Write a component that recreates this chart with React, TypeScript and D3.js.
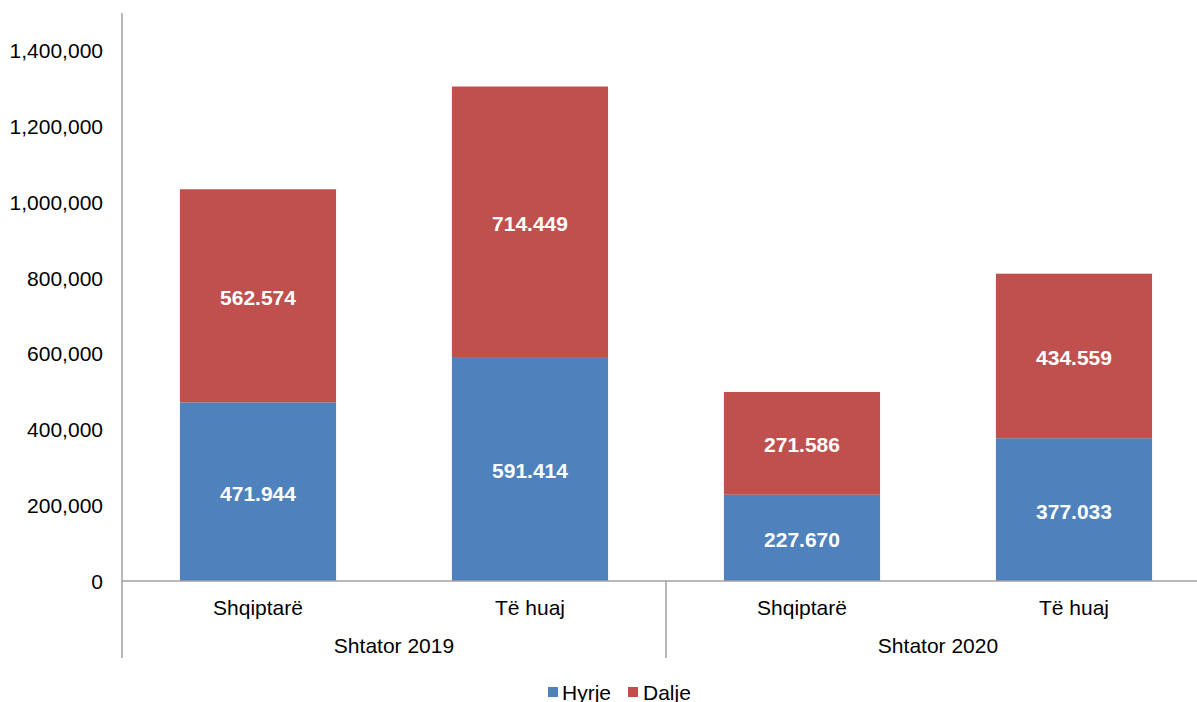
import React from "react";
import * as d3 from "d3";

const groups = ["Shtator 2019", "Shtator 2020"];
const categories = ["Shqiptarë", "Të huaj", "Shqiptarë", "Të huaj"];
const categoryGroup = [0, 0, 1, 1];
const hyrje = [471944, 591414, 227670, 377033];
const dalje = [562574, 714449, 271586, 434559];
const hyrjeLabels = ["471.944", "591.414", "227.670", "377.033"];
const daljeLabels = ["562.574", "714.449", "271.586", "434.559"];
const yTicks = [0, 200000, 400000, 600000, 800000, 1000000, 1200000, 1400000];
const seriesNames = ["Hyrje", "Dalje"];
const colors = ["#4F81BD", "#C0504D"];

const W = 1197;
const H = 702;
const left = 122;
const catW = 272;
const y0 = 581;
const yTop = 13;
const FONT = "'Liberation Sans', Arial, sans-serif";
const FS = 21;

export default function App() {
  const y = d3.scaleLinear().domain([0, 1500000]).range([y0, yTop]);
  const x = d3
    .scaleBand<number>()
    .domain(d3.range(categories.length))
    .range([left, left + catW * categories.length])
    .paddingInner(0.426)
    .paddingOuter(0.213);
  const fmt = d3.format(",");
  const axisColor = "#A0A0A0";
  const bottom = 658;

  return (
    <svg
      width={W}
      height={H}
      style={{ position: "absolute", left: 0, top: 0, background: "#fff" }}
      fontFamily={FONT}
    >
      {categories.map((c, i) => {
        const bx = x(i)!;
        const bw = x.bandwidth();
        const h0 = y(0);
        const h1 = y(hyrje[i]);
        const h2 = y(hyrje[i] + dalje[i]);
        return (
          <g key={i}>
            <rect x={bx} y={h1} width={bw} height={h0 - h1} fill={colors[0]} />
            <rect x={bx} y={h2} width={bw} height={h1 - h2} fill={colors[1]} />
            <text
              x={bx + bw / 2}
              y={(h0 + h1) / 2 + 1.5}
              textAnchor="middle"
              dominantBaseline="central"
              fill="#fff"
              fontWeight="bold"
              fontSize={FS}
            >
              {hyrjeLabels[i]}
            </text>
            <text
              x={bx + bw / 2}
              y={(h1 + h2) / 2 + 1.5}
              textAnchor="middle"
              dominantBaseline="central"
              fill="#fff"
              fontWeight="bold"
              fontSize={FS}
            >
              {daljeLabels[i]}
            </text>
            <text
              x={bx + bw / 2}
              y={607}
              textAnchor="middle"
              dominantBaseline="central"
              fill="#000"
              fontSize={FS}
            >
              {c}
            </text>
          </g>
        );
      })}
      {groups.map((g, gi) => {
        const idx = categories.map((_, i) => i).filter((i) => categoryGroup[i] === gi);
        const gx0 = left + catW * idx[0];
        const gx1 = left + catW * (idx[idx.length - 1] + 1);
        return (
          <text
            key={g}
            x={(gx0 + gx1) / 2}
            y={645}
            textAnchor="middle"
            dominantBaseline="central"
            fill="#000"
            fontSize={FS}
          >
            {g}
          </text>
        );
      })}
      {yTicks.map((t) => (
        <text
          key={t}
          x={103}
          y={y(t)}
          textAnchor="end"
          dominantBaseline="central"
          fill="#000"
          fontSize={FS}
        >
          {fmt(t)}
        </text>
      ))}
      <line x1={left} x2={W} y1={y0} y2={y0} stroke={axisColor} strokeWidth={1.5} />
      <line x1={left} x2={left} y1={yTop} y2={bottom} stroke={axisColor} strokeWidth={1.5} />
      <line x1={left + catW * 2} x2={left + catW * 2} y1={y0} y2={bottom} stroke={axisColor} strokeWidth={1.5} />
      <g>
        <rect x={548} y={687} width={10} height={10} fill={colors[0]} />
        <text x={562} y={692} dominantBaseline="central" fontSize={FS} fill="#000">
          {seriesNames[0]}
        </text>
        <rect x={628} y={687} width={10} height={10} fill={colors[1]} />
        <text x={643} y={692} dominantBaseline="central" fontSize={FS} fill="#000">
          {seriesNames[1]}
        </text>
      </g>
    </svg>
  );
}
